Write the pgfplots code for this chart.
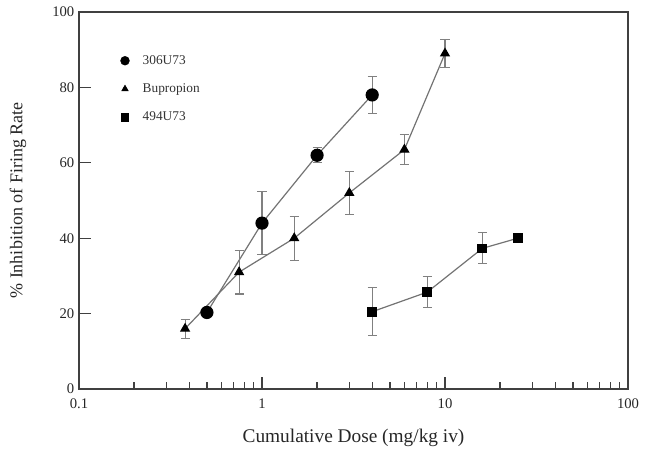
\documentclass[border=0pt]{standalone}
\usepackage{fontspec}
\setmainfont{Liberation Serif}
\usepackage{pgfplots}
\pgfplotsset{compat=1.18}

\pgfplotsset{
  errs/.style={draw=none, mark=none, forget plot,
    error bars/.cd, y dir=both, y explicit,
    error bar style={draw=black!50, line width=0.8pt},
    error mark options={rotate=90, mark size=3.4pt, draw=black!50, line width=0.8pt}},
  ser/.style={black!55, line width=0.9pt, mark options={solid, draw=black, fill=black}, forget plot},
}

\begin{document}
\begin{tikzpicture}
\path[use as bounding box] (-59.25pt,-45.75pt) rectangle (424.5pt,291.75pt);
\begin{axis}[
  scale only axis, width=411.75pt, height=282.75pt,
  xmode=log, xmin=0.1, xmax=100, ymin=0, ymax=100,
  xtick={0.1,1,10,100}, xticklabels={0.1,1,10,100},
  minor xtick={0.2,0.3,0.4,0.5,0.6,0.7,0.8,0.9,2,3,4,5,6,7,8,9,20,30,40,50,60,70,80,90},
  ytick={0,20,40,60,80,100},
  xtick pos=bottom, ytick pos=left, tick align=inside,
  major tick length=9pt, minor tick length=5pt,
  every tick/.style={black!75, line width=1pt},
  axis line style={black!75, line width=1.4pt},
  /pgf/number format/assume math mode=true,
  tick label style={font=\fontsize{11}{13}\selectfont, black!85},
  xticklabel style={yshift=-3.5pt},
  xlabel={Cumulative Dose (mg/kg iv)},
  ylabel={\% Inhibition of Firing Rate},
  xlabel style={font=\fontsize{14.5}{17}\selectfont, black!85, at={(axis description cs:0.5,-0.13)}, anchor=center},
  ylabel style={font=\fontsize{13.5}{16}\selectfont, black!85, at={(axis description cs:-0.111,0.5)}, anchor=center},
  legend style={draw=none, fill=none, at={(0.068,0.9)}, anchor=north west,
    font=\fontsize{10}{12}\selectfont, text=black!80, row sep=9pt, column sep=8pt},
  legend cell align=left,
]
% 306U73
\addplot[errs] table[x=x, y=y, y error=e] {
x y e
1 44 8.3
2 62 2
4 78 5
};
\addplot[ser, mark=*, mark size=4.5pt] table[x=x, y=y] {
x y
0.5 20.3
1 44
2 62
4 78
};
% Bupropion
\addplot[errs] table[x=x, y=y, y error=e] {
x y e
0.38 16 2.5
0.75 31 5.8
1.5 40 5.8
3 52 5.8
6 63.5 4
10 89 3.8
};
\addplot[ser, mark=triangle*, mark size=3.6pt] table[x=x, y=y] {
x y
0.38 16
0.75 31
1.5 40
3 52
6 63.5
10 89
};
% 494U73
\addplot[errs] table[x=x, y=y, y error=e] {
x y e
4 20.5 6.4
8 25.7 4.1
16 37.3 4.1
};
\addplot[ser, mark=square*, mark size=3.2pt] table[x=x, y=y] {
x y
4 20.5
8 25.7
16 37.3
25 40
};
\addlegendimage{only marks, mark=*, mark size=3.3pt, black}
\addlegendentry{306U73}
\addlegendimage{only marks, mark=triangle*, mark size=2.8pt, black}
\addlegendentry{Bupropion}
\addlegendimage{only marks, mark=square*, mark size=2.8pt, black}
\addlegendentry{494U73}
\end{axis}
\end{tikzpicture}
\end{document}
